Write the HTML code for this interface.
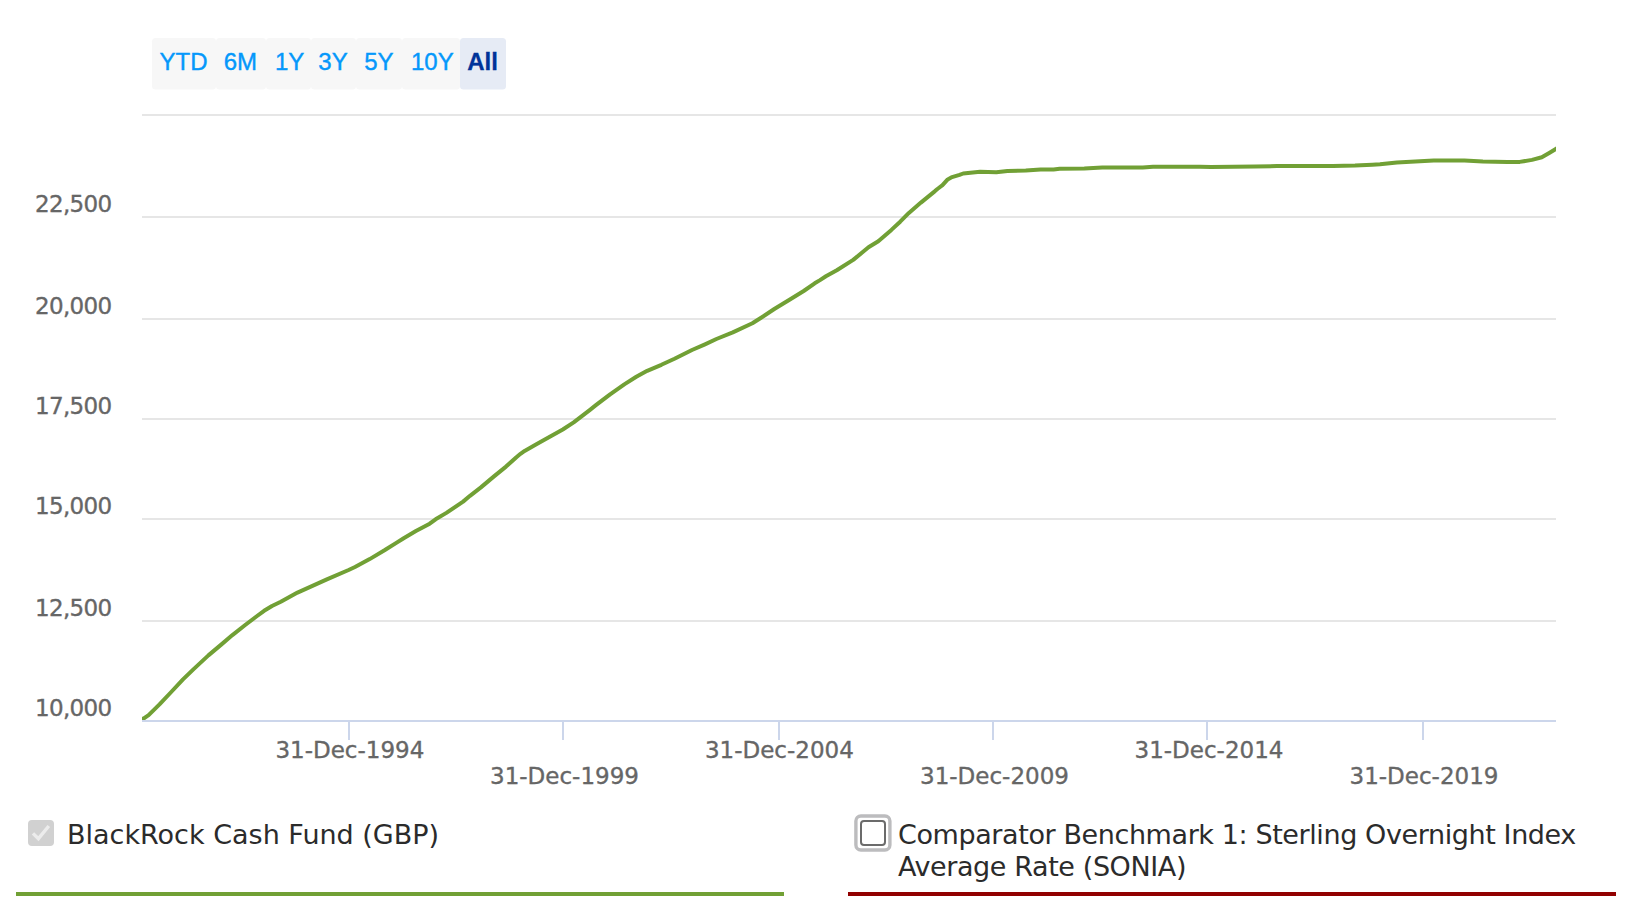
<!DOCTYPE html>
<html lang="en">
<head>
<meta charset="utf-8">
<title>BlackRock Cash Fund (GBP) - Performance chart</title>
<style>
  html, body { margin: 0; padding: 0; background: #ffffff; }
  body { width: 1628px; height: 916px; overflow: hidden; position: relative; }
  #chart { position: absolute; left: 0; top: 0; }
  .rs { font-family: "Liberation Sans", Arial, sans-serif; font-size: 24px; fill: #0598fb; stroke: #0598fb; stroke-width: 0.4px; }
  .rs.sel { fill: #003399; stroke: #003399; stroke-width: 0.3px; font-weight: bold; }
  .ylab, .xlab { font-family: "DejaVu Sans", "Liberation Sans", sans-serif; font-size: 23px; fill: #666666; stroke: #666666; stroke-width: 0.35px; }
  .xlab { letter-spacing: 0px; }
  .ylab { letter-spacing: -0.7px; }
  .legend { position: absolute; top: 0; left: 0; font-family: "DejaVu Sans", "Liberation Sans", sans-serif; color: #2b2b2b; }
  .cb1 { position: absolute; left: 28px; top: 820px; width: 26px; height: 26px; border-radius: 4px; background: #d1d1d1; }
  .cb2 { position: absolute; left: 860px; top: 820px; width: 22px; height: 22px; border: 2px solid #6b6b6b; border-radius: 4px; background: #fff; }
  .ltext { position: absolute; font-size: 27px; line-height: 32px; white-space: nowrap; }
  .bar { position: absolute; top: 892px; height: 4px; width: 768px; }
</style>
</head>
<body>
<svg id="chart" width="1628" height="916" viewBox="0 0 1628 916">
  <!-- range selector -->
  <g>
    <rect x="152" y="38" width="64" height="51.5" rx="3.5" fill="#f7f7f7"/>
    <rect x="216" y="38" width="50" height="51.5" rx="3.5" fill="#f7f7f7"/>
    <rect x="266" y="38" width="45" height="51.5" rx="3.5" fill="#f7f7f7"/>
    <rect x="311" y="38" width="45" height="51.5" rx="3.5" fill="#f7f7f7"/>
    <rect x="356" y="38" width="46" height="51.5" rx="3.5" fill="#f7f7f7"/>
    <rect x="402" y="38" width="58" height="51.5" rx="3.5" fill="#f7f7f7"/>
    <rect x="460" y="38" width="46" height="51.5" rx="3.5" fill="#e6ebf5"/>
    <text class="rs" x="183.6" y="69.7" text-anchor="middle">YTD</text>
    <text class="rs" x="240.35" y="69.7" text-anchor="middle">6M</text>
    <text class="rs" x="289.65" y="69.7" text-anchor="middle">1Y</text>
    <text class="rs" x="333" y="69.7" text-anchor="middle">3Y</text>
    <text class="rs" x="378.9" y="69.7" text-anchor="middle">5Y</text>
    <text class="rs" x="432.3" y="69.7" text-anchor="middle">10Y</text>
    <text class="rs sel" x="482.5" y="69.7" text-anchor="middle">All</text>
  </g>
  <!-- grid -->
  <g fill="#e6e6e6">
    <rect x="142" y="114" width="1414" height="2"/>
    <rect x="142" y="216" width="1414" height="2"/>
    <rect x="142" y="318" width="1414" height="2"/>
    <rect x="142" y="418" width="1414" height="2"/>
    <rect x="142" y="518" width="1414" height="2"/>
    <rect x="142" y="620" width="1414" height="2"/>
  </g>
  <!-- x axis -->
  <g fill="#ccd6eb">
    <rect x="142" y="720" width="1414" height="2"/>
    <rect x="348" y="720" width="2" height="20"/>
    <rect x="562" y="720" width="2" height="20"/>
    <rect x="778" y="720" width="2" height="20"/>
    <rect x="992" y="720" width="2" height="20"/>
    <rect x="1206" y="720" width="2" height="20"/>
    <rect x="1422" y="720" width="2" height="20"/>
  </g>
  <!-- y labels -->
  <g text-anchor="end">
    <text class="ylab" x="111.4" y="212">22,500</text>
    <text class="ylab" x="111.4" y="314">20,000</text>
    <text class="ylab" x="111.4" y="414">17,500</text>
    <text class="ylab" x="111.4" y="514">15,000</text>
    <text class="ylab" x="111.4" y="616">12,500</text>
    <text class="ylab" x="111.4" y="716">10,000</text>
  </g>
  <!-- x labels -->
  <g text-anchor="middle">
    <text class="xlab" x="349.9" y="758">31-Dec-1994</text>
    <text class="xlab" x="564.5" y="784.3">31-Dec-1999</text>
    <text class="xlab" x="779.4" y="758">31-Dec-2004</text>
    <text class="xlab" x="994.5" y="784.3">31-Dec-2009</text>
    <text class="xlab" x="1209" y="758">31-Dec-2014</text>
    <text class="xlab" x="1424" y="784.3">31-Dec-2019</text>
  </g>
  <!-- series -->
  <defs><clipPath id="plot"><rect x="142" y="100" width="1414" height="620"/></clipPath></defs>
  <polyline clip-path="url(#plot)" fill="none" stroke="#71a035" stroke-width="4" stroke-linejoin="round" stroke-linecap="round"
    points="142,719.2 143.8,718.4 148.6,715.2 159.5,704.4 171.2,692 183,679.4 193.1,669.6 208.4,655.4 221.5,644.4 232.4,635.1 245.5,624.8 256.4,616.5 264.1,610.8 272,606 280.8,601.8 297.5,592.6 326.3,579.6 348.6,570 355,567 369.7,559.1 384.5,550.3 396.3,542.9 404.1,538 415.9,531.1 429.7,523.7 435.6,519.3 446.4,512.9 463.1,501.6 470,495.8 480.9,487.4 494,476.4 506,466.6 516.4,457.2 520.5,453.8 524.6,450.9 535.5,444.8 545.3,439.3 562.8,429.5 573.7,422.4 590,409.8 595.9,405.2 610.1,394.3 624.3,384.4 636.3,376.8 647.2,370.8 661.4,364.8 674.5,358.8 692,350 705,344.3 716.4,339 732.8,332.4 752.4,323.2 761.1,317.7 774.3,309 789.5,299.7 803.7,291 814.7,283.3 820,280.1 825.9,276.3 836.8,270.3 853.2,259.9 868.5,247.3 878.3,241.3 891.4,229.9 900.2,221.7 908.9,212.9 920.9,202.6 935,191.1 937.4,189 942.5,185.2 947.7,179.4 952.1,177.1 959.5,174.9 963.2,173.5 980.1,171.7 996.3,172.3 1007.4,170.9 1025.8,170.6 1040.6,169.6 1053.6,169.6 1059.7,168.8 1084.3,168.4 1102.3,167.4 1142.8,167.4 1153,166.8 1193.5,166.8 1200,166.7 1211,167.1 1255,166.6 1277,166.1 1333,166.1 1355,165.6 1372.3,164.8 1380,164.3 1396.9,162.4 1433.7,160.6 1464.4,160.6 1482.9,161.5 1507.4,162.1 1519.7,161.9 1532,159.9 1541.8,157.2 1549.2,152.9 1557,148.2"/>
</svg>

<div class="legend">
  <div class="cb1"><svg width="26" height="26" viewBox="0 0 26 26"><polyline points="5,13.4 10.4,18.7 20.8,6" fill="none" stroke="#ececec" stroke-width="3.4"/></svg></div>
  <div class="ltext" style="left:67px; top:819px;">BlackRock Cash Fund (GBP)</div>
  <div class="bar" style="left:16px; background:#71a035;"></div>

  <svg style="position:absolute;left:850px;top:810px" width="46" height="46" viewBox="850 810 46 46"><rect x="855.9" y="816" width="34" height="34" rx="5" fill="#fff" stroke="#bcbcbe" stroke-width="3.4"/></svg>
  <div class="cb2"></div>
  <div class="ltext" style="left:898px; top:819px; letter-spacing:-0.4px;">Comparator Benchmark 1: Sterling Overnight Index<br>Average Rate (SONIA)</div>
  <div class="bar" style="left:848px; background:#910000;"></div>
</div>
</body>
</html>
